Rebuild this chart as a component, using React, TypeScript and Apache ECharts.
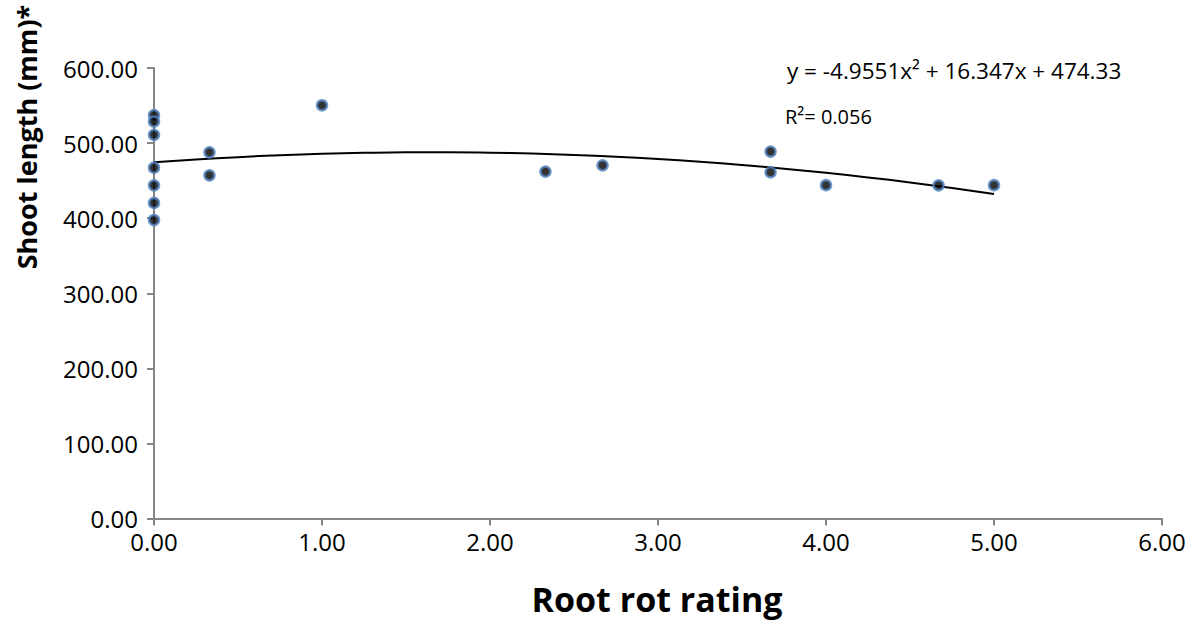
import React, { useEffect, useRef } from "react";
import * as echarts from "echarts";

const xValues = [0, 0, 0, 0, 0, 0, 0, 0.33, 0.33, 1.0, 2.33, 2.67, 3.67, 3.67, 4.0, 4.67, 5.0];
const yValues = [537.3, 528.7, 511, 467.3, 443.7, 420.3, 397.6, 487.7, 457, 550.4, 462, 470.4, 488.7, 461.1, 444, 443.7, 444];
const trendCoef = { a: -4.9551, b: 16.347, c: 474.33 };
const trendXs = [0, 0.25, 0.5, 0.75, 1, 1.25, 1.5, 1.75, 2, 2.25, 2.5, 2.75, 3, 3.25, 3.5, 3.75, 4, 4.25, 4.5, 4.75, 5];
const xTitle = "Root rot rating";
const yTitle = "Shoot length (mm)*";
const eqText = "y = -4.9551x² + 16.347x + 474.33";
const r2Text = "R²= 0.056";

export default function App() {
  const ref = useRef<HTMLDivElement>(null);
  useEffect(() => {
    if (!ref.current) return;
    const chart = echarts.init(ref.current, null, { renderer: "svg" });
    const pts = xValues.map((x, i) => [x, yValues[i]]);
    const trend = trendXs.map((x) => [x, trendCoef.a * x * x + trendCoef.b * x + trendCoef.c]);
    const font = "'Open Sans', sans-serif";
    const axisCommon = {
      axisLine: { show: true, lineStyle: { color: "#868686", width: 2 } },
      axisTick: { show: true, inside: false, length: 7, lineStyle: { color: "#868686", width: 2 } },
      splitLine: { show: false },
      axisLabel: {
        color: "#000",
        fontFamily: font,
        fontSize: 24,
        formatter: (v: number) => v.toFixed(2),
      },
    };
    chart.setOption({
      animation: false,
      grid: { left: 154, right: 33, top: 68, bottom: 102.5, containLabel: false },
      xAxis: {
        type: "value",
        min: 0,
        max: 6,
        interval: 1,
        ...axisCommon,
        axisLabel: { ...axisCommon.axisLabel, margin: 11 },
      },
      yAxis: {
        type: "value",
        min: 0,
        max: 600,
        interval: 100,
        ...axisCommon,
        axisLabel: { ...axisCommon.axisLabel, margin: 16 },
      },
      series: [
        {
          type: "line",
          data: trend,
          smooth: true,
          showSymbol: false,
          symbol: "none",
          lineStyle: { color: "#000", width: 2 },
          z: 2,
        },
        {
          type: "scatter",
          data: pts,
          symbol: "circle",
          symbolSize: 10,
          itemStyle: { color: "#000", borderColor: "#4F81BD", borderWidth: 2.5 },
          z: 3,
        },
      ],
      graphic: [
        {
          type: "text",
          x: 657,
          y: 599,
          style: {
            text: xTitle,
            fontFamily: font,
            fontWeight: "bold",
            fontSize: 34,
            fill: "#000",
            align: "center",
            verticalAlign: "middle",
          },
        },
        {
          type: "text",
          x: 26,
          y: 137,
          rotation: Math.PI / 2,
          style: {
            text: yTitle,
            fontFamily: font,
            fontWeight: "bold",
            fontSize: 27,
            fill: "#000",
            align: "center",
            verticalAlign: "middle",
          },
        },
        {
          type: "text",
          x: 787,
          y: 70,
          style: {
            text: eqText,
            fontFamily: font,
            fontSize: 22.5,
            fill: "#000",
            align: "left",
            verticalAlign: "middle",
          },
        },
        {
          type: "text",
          x: 785,
          y: 116,
          style: {
            text: r2Text,
            fontFamily: font,
            fontSize: 20,
            fill: "#000",
            align: "left",
            verticalAlign: "middle",
          },
        },
      ],
    });
    return () => chart.dispose();
  }, []);
  return <div ref={ref} style={{ position: "absolute", left: 0, top: 0, width: 1195, height: 621 }} />;
}
